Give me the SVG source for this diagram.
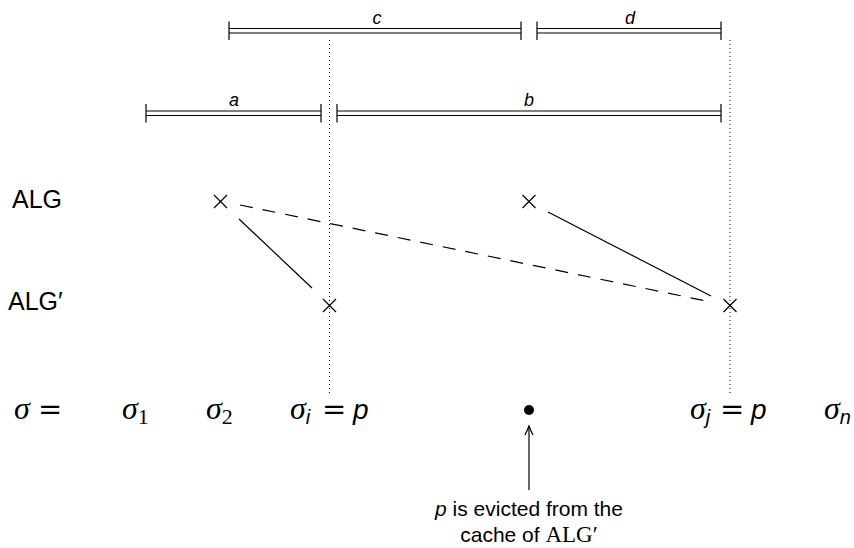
<svg xmlns="http://www.w3.org/2000/svg" width="854" height="548" viewBox="0 0 854 548">
<style>
.bar{stroke:#000;stroke-width:1.2;fill:none}
.tick{stroke:#000;stroke-width:1.2}
.lbl{font-family:"Liberation Sans","DejaVu Sans",sans-serif;font-style:italic;font-size:18px;text-anchor:middle}
.dot{stroke:#000;stroke-width:1;stroke-dasharray:1 3;fill:none}
.x{stroke:#000;stroke-width:1.2}
.sans{font-family:"Liberation Sans","DejaVu Sans",sans-serif;font-size:25px}
.m{font-family:"Liberation Serif","DejaVu Serif",serif;font-style:italic;font-size:32px}
.eq{font-family:"DejaVu Serif",serif;font-size:29px}
.si{font-family:"Liberation Sans","DejaVu Sans",sans-serif;font-style:italic;font-size:28px}
.sub{font-family:"Liberation Serif","DejaVu Serif",serif;font-size:22px}
.subi{font-family:"Liberation Sans","DejaVu Sans",sans-serif;font-style:italic;font-size:20px}
.note{font-family:"Liberation Sans","DejaVu Sans",sans-serif;font-size:21px;text-anchor:middle}
</style>
<g id="guides">
<line class="dot" x1="329.5" y1="40" x2="329.5" y2="396"/>
<line class="dot" x1="730" y1="40" x2="730" y2="396"/>
</g>
<g id="interval-c">
<line class="bar" x1="229" y1="28.5" x2="521" y2="28.5"/>
<line class="bar" x1="229" y1="33" x2="521" y2="33"/>
<line class="tick" x1="229" y1="21.5" x2="229" y2="40"/>
<line class="tick" x1="521" y1="21.5" x2="521" y2="40"/>
<text class="lbl" x="377" y="24">c</text>
</g>
<g id="interval-d">
<line class="bar" x1="537" y1="28.5" x2="721" y2="28.5"/>
<line class="bar" x1="537" y1="33" x2="721" y2="33"/>
<line class="tick" x1="537" y1="21.5" x2="537" y2="40"/>
<line class="tick" x1="721" y1="21.5" x2="721" y2="40"/>
<text class="lbl" x="630" y="24">d</text>
</g>
<g id="interval-a">
<line class="bar" x1="146" y1="111" x2="321" y2="111"/>
<line class="bar" x1="146" y1="115.5" x2="321" y2="115.5"/>
<line class="tick" x1="146" y1="104" x2="146" y2="122.5"/>
<line class="tick" x1="321" y1="104" x2="321" y2="122.5"/>
<text class="lbl" x="234" y="106">a</text>
</g>
<g id="interval-b">
<line class="bar" x1="337" y1="111" x2="721" y2="111"/>
<line class="bar" x1="337" y1="115.5" x2="721" y2="115.5"/>
<line class="tick" x1="337" y1="104" x2="337" y2="122.5"/>
<line class="tick" x1="721" y1="104" x2="721" y2="122.5"/>
<text class="lbl" x="529" y="106">b</text>
</g>
<g id="row-labels">
<text class="sans" x="12" y="208">ALG</text>
<text class="sans" x="8" y="310">ALG′</text>
</g>
<g id="cross-1"><path class="x" d="M214,195 L227,208 M227,195 L214,208"/></g>
<g id="cross-2"><path class="x" d="M522.5,195 L535.5,208 M535.5,195 L522.5,208"/></g>
<g id="cross-3"><path class="x" d="M323,299 L336,312 M336,299 L323,312"/></g>
<g id="cross-4"><path class="x" d="M723.5,299 L736.5,312 M736.5,299 L723.5,312"/></g>
<g id="connectors">
<line stroke="#000" stroke-width="1.2" x1="239" y1="219" x2="312" y2="288"/>
<line stroke="#000" stroke-width="1.2" x1="548" y1="212" x2="711" y2="296"/>
<line stroke="#000" stroke-width="1.2" stroke-dasharray="13 10" x1="240" y1="205" x2="711" y2="302"/>
<line stroke="#000" stroke-width="1.2" x1="529" y1="490" x2="529" y2="426"/>
<path d="M525,435 Q527.5,430 529,426 Q530.5,430 533,435" fill="none" stroke="#000" stroke-width="1.2"/>
</g>
<g id="sequence">
<text class="m" x="14" y="419">σ</text><text class="eq" x="38" y="419">=</text>
<text x="122" y="419"><tspan class="m">σ</tspan><tspan class="sub" dy="5">1</tspan></text>
<text x="206" y="419"><tspan class="m">σ</tspan><tspan class="sub" dy="5">2</tspan></text>
<text x="290" y="419"><tspan class="m">σ</tspan><tspan class="subi" dy="5">i</tspan></text>
<text class="eq" x="322" y="419">=</text><text class="si" x="353" y="419">p</text>
<circle cx="529" cy="410" r="5" fill="#000"/>
<text x="690" y="419"><tspan class="m">σ</tspan><tspan class="subi" dy="5">j</tspan></text>
<text class="eq" x="720" y="419">=</text><text class="si" x="751" y="419">p</text>
<text x="824" y="419"><tspan class="m">σ</tspan><tspan class="subi" dy="5">n</tspan></text>
</g>
<g id="note">
<text class="note" x="529" y="516"><tspan font-style="italic">p</tspan> is evicted from the</text>
<text class="note" x="529" y="542">cache of <tspan font-family="Liberation Serif, serif" font-size="23">ALG′</tspan></text>
</g>
</svg>
